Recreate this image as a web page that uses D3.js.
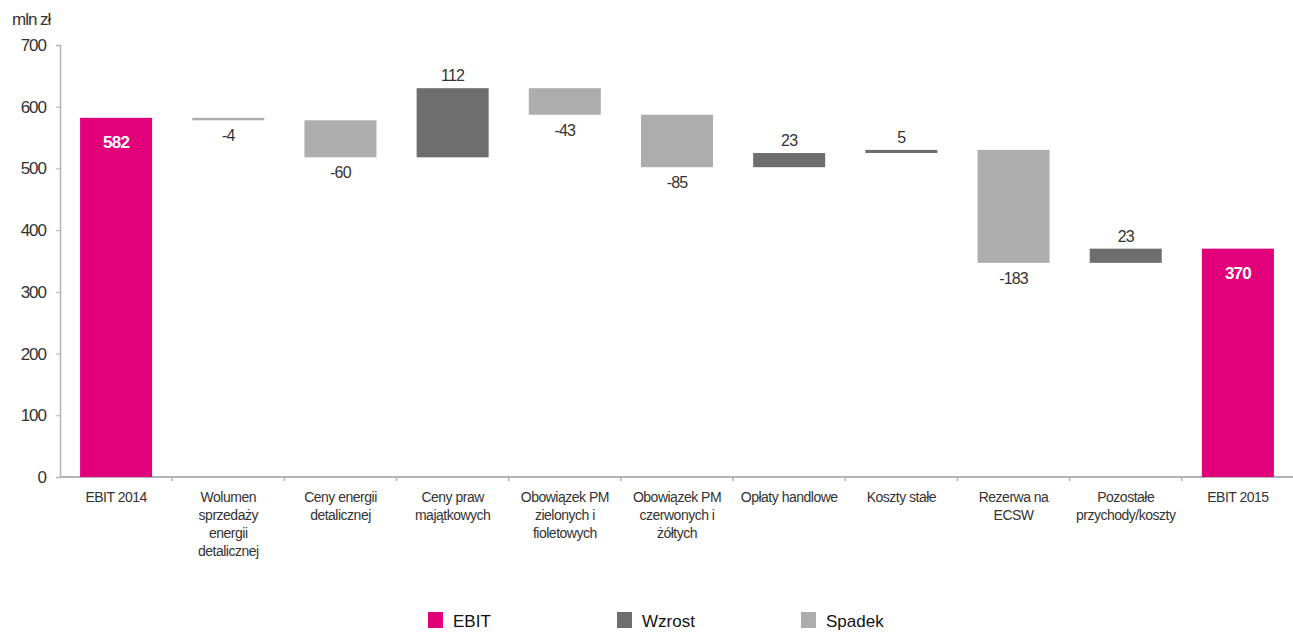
<!DOCTYPE html>
<html>
<head>
<meta charset="utf-8">
<script src="https://cdn.jsdelivr.net/npm/d3@7"></script>
<style>
  html, body { margin: 0; padding: 0; background: #fff; }
  svg { display: block; font-family: "Liberation Sans", Arial, sans-serif; }
</style>
</head>
<body>
<svg id="chart" width="1293" height="632"></svg>
<script>
// Waterfall of EBIT 2014 -> EBIT 2015 (mln zł)
const categories = [
  "EBIT 2014",
  "Wolumen\nsprzedaży\nenergii\ndetalicznej",
  "Ceny energii\ndetalicznej",
  "Ceny praw\nmajątkowych",
  "Obowiązek PM\nzielonych i\nfioletowych",
  "Obowiązek PM\nczerwonych i\nżółtych",
  "Opłaty handlowe",
  "Koszty stałe",
  "Rezerwa na\nECSW",
  "Pozostałe\nprzychody/koszty",
  "EBIT 2015"
];
// first and last entries are totals, the rest are changes
const values = [582, -4, -60, 112, -43, -85, 23, 5, -183, 23, 370];
const kinds  = ["total", "delta", "delta", "delta", "delta", "delta", "delta", "delta", "delta", "delta", "total"];
const yTicks = [0, 100, 200, 300, 400, 500, 600, 700];
const legendLabels = ["EBIT", "Wzrost", "Spadek"];

const colors = { EBIT: "#e2007a", Wzrost: "#6e6e6e", Spadek: "#adadad" };
const textColor = "#333333";
const axisColor = "#b4b4b4";

// running totals for the floating bars
let running = 0;
const bars = categories.map((c, i) => {
  let lo, hi, type;
  if (kinds[i] === "total") {
    running = values[i];
    lo = 0; hi = values[i]; type = "EBIT";
  } else {
    const start = running;
    running += values[i];
    lo = Math.min(start, running); hi = Math.max(start, running);
    type = values[i] >= 0 ? "Wzrost" : "Spadek";
  }
  return { cat: c, value: values[i], lo, hi, type };
});

const svg = d3.select("#chart");

const x = d3.scaleBand()
  .domain(categories)
  .range([60, 1294])
  .paddingInner(0.358)
  .paddingOuter(0.179);

const y = d3.scaleLinear().domain([0, 700]).range([477, 45]);

// y axis
const yAxis = svg.append("g").attr("transform", "translate(60,0)")
  .call(d3.axisLeft(y).tickValues(yTicks).tickSize(4).tickPadding(10));
yAxis.select(".domain").attr("stroke", axisColor).attr("stroke-width", 1.5);
yAxis.selectAll(".tick line").attr("stroke", axisColor);
yAxis.selectAll(".tick text")
  .attr("fill", textColor)
  .style("font-size", "17px")
  .style("letter-spacing", "-1px")
  .style("font-family", "'Liberation Sans', Arial, sans-serif");

// y axis unit
svg.append("text")
  .attr("x", 12).attr("y", 25)
  .attr("fill", textColor)
  .style("font-size", "17px")
  .style("letter-spacing", "-1px")
  .text("mln zł");

// x axis baseline and boundary ticks
const step = x.step();
const boundaries = categories.map(c => x(c) - (step - x.bandwidth()) / 2);
svg.append("line")
  .attr("x1", 60).attr("x2", 1293)
  .attr("y1", y(0)).attr("y2", y(0))
  .attr("stroke", axisColor).attr("stroke-width", 2);
svg.selectAll(".xtick").data(boundaries.slice(1)).enter().append("line")
  .attr("x1", d => d).attr("x2", d => d)
  .attr("y1", y(0)).attr("y2", y(0) + 4)
  .attr("stroke", axisColor).attr("stroke-width", 1.5);

// category labels
const catLabels = svg.selectAll(".cat").data(categories).enter().append("text")
  .attr("text-anchor", "middle")
  .attr("fill", textColor)
  .style("font-size", "14px")
  .style("letter-spacing", "-0.5px")
  .attr("transform", d => `translate(${x(d) + x.bandwidth() / 2},${y(0) + 25})`);
catLabels.each(function(d) {
  const lines = d.split("\n");
  d3.select(this).selectAll("tspan").data(lines).enter().append("tspan")
    .attr("x", 0)
    .attr("dy", (l, i) => i === 0 ? 0 : 18)
    .text(l => l);
});

// bars
svg.selectAll(".bar").data(bars).enter().append("rect")
  .attr("x", d => x(d.cat))
  .attr("width", x.bandwidth())
  .attr("y", d => y(d.hi))
  .attr("height", d => Math.max(1.5, y(d.lo) - y(d.hi)))
  .attr("fill", d => colors[d.type]);

// value labels
svg.selectAll(".val").data(bars).enter().append("text")
  .attr("text-anchor", "middle")
  .attr("x", d => x(d.cat) + x.bandwidth() / 2)
  .attr("y", d => {
    if (d.type === "EBIT") return y(d.hi) + 30;
    if (d.type === "Wzrost") return y(d.hi) - 7;
    return y(d.lo) + 21;
  })
  .attr("fill", d => d.type === "EBIT" ? "#fff" : textColor)
  .style("font-size", d => d.type === "EBIT" ? "17px" : "16px")
  .style("font-weight", d => d.type === "EBIT" ? "bold" : "normal")
  .style("letter-spacing", "-0.8px")
  .text(d => d.value);

// legend
const legendX = [428, 617, 801];
const legend = svg.selectAll(".leg").data(legendLabels).enter().append("g")
  .attr("transform", (d, i) => `translate(${legendX[i]},612)`);
legend.append("rect")
  .attr("width", 15).attr("height", 16)
  .attr("fill", d => colors[d]);
legend.append("text")
  .attr("x", 25).attr("y", 14.5)
  .attr("fill", "#111")
  .style("font-size", "17px")
  .text(d => d);
</script>
</body>
</html>
